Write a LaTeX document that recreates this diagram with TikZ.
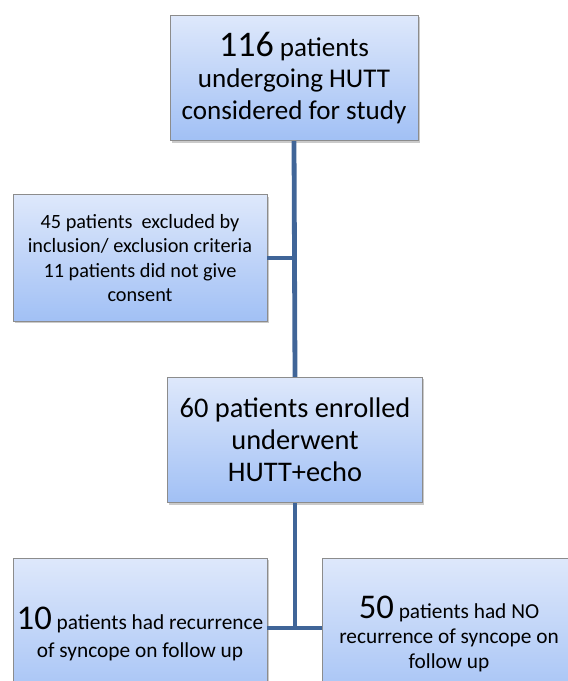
\documentclass[tikz,border=0pt]{standalone}
\usepackage{fontspec}
\setmainfont{Carlito}
\usetikzlibrary{shadows}

\definecolor{linkblue}{RGB}{64,101,152}
\definecolor{boxtop}{RGB}{222,232,251}
\definecolor{boxbot}{RGB}{161,192,245}
\definecolor{boxedge}{RGB}{140,140,140}

\begin{document}
\begin{tikzpicture}[
    x=0.75pt, y=-0.75pt,
    box/.style={rectangle, draw=boxedge, line width=0.6pt, top color=boxtop, bottom color=boxbot,
      align=center, inner sep=2pt,
      drop shadow={shadow xshift=1.2pt, shadow yshift=-1.5pt, opacity=0.35, fill=black!60}},
    link/.style={draw=linkblue, line width=3.6pt}
  ]
    \useasboundingbox (0,0) rectangle (567,681);

    \node[box, minimum width=186pt, minimum height=94pt, font=\fontsize{20.3}{23.5}\selectfont] (considered) at (294,78)
      {{\fontsize{27}{23.5}\selectfont 116} patients\\undergoing HUTT\\considered for study};
    \node[box, minimum width=190.5pt, minimum height=95pt, font=\fontsize{15.2}{18.4}\selectfont] (excluded) at (140,258)
      {45 patients\ \ excluded by\\inclusion/ exclusion criteria\\11 patients did not give\\consent};
    \node[box, minimum width=191pt, minimum height=94pt, font=\fontsize{21.3}{24}\selectfont] (enrolled) at (295,440)
      {60 patients enrolled\\underwent\\HUTT+echo};
    \node[box, minimum width=190.5pt, minimum height=114pt, font=\fontsize{16}{21}\selectfont] (recurrence) at (140,634)
      {{\fontsize{26}{21}\selectfont 10} patients had recurrence\\of syncope on follow up};
    \node[box, minimum width=190.5pt, minimum height=114pt, font=\fontsize{16}{18.5}\selectfont] (norecurrence) at (449,634)
      {{\fontsize{26}{18.5}\selectfont 50} patients had NO\\recurrence of syncope on\\follow up};

    % trunk and side branches
    \coordinate (side) at (294,258);
    \coordinate (split) at (295,628);
    \draw[link] (considered.south) -- (enrolled.north);
    \draw[link] (excluded.east) -- (side);
    \draw[link] (enrolled.south) -- (split);
    \draw[link] (recurrence.east |- split) -- (norecurrence.west |- split);
\end{tikzpicture}
\end{document}
